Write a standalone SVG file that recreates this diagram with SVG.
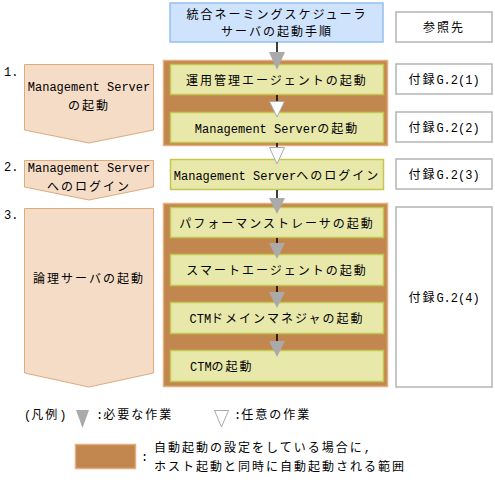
<svg xmlns="http://www.w3.org/2000/svg" width="495" height="484" viewBox="0 0 495 484">
<style>
text{font-family:"Noto Sans CJK JP","Liberation Mono",monospace;font-size:12px;letter-spacing:2px;fill:#000}
.l{font-family:"Liberation Mono","DejaVu Sans Mono",monospace;font-size:12px;letter-spacing:0}
.c{text-anchor:middle}
.blue{fill:#cfe4fc;stroke:#94c0ef;stroke-width:1.5}
.ref{fill:#fff;stroke:#b4b4b4;stroke-width:1.5}
.brown{fill:#c1874f;stroke:#e3ad7d;stroke-width:1.5}
.step{fill:#e8e8ab;stroke:#c5c552;stroke-width:1.5}
.pent{fill:#f5dcc6;stroke:#dcab7e;stroke-width:1}
.req{fill:#aaaaaa;stroke:none}
.opt{fill:#fff;stroke:#aaaaaa;stroke-width:1}
.ln{stroke:#000;stroke-width:1.5}
</style>
<g id="title"><rect class="blue" x="170" y="3" width="213" height="39"/><text class="c" x="277" y="19">統合ネーミングスケジューラ</text><text class="c" x="277" y="36">サーバの起動手順</text></g>
<g id="ref-head"><rect class="ref" x="396" y="12" width="96" height="30"/><text class="c" x="444" y="32">参照先</text></g>
<g id="brown1"><rect class="brown" x="163.5" y="60.5" width="224" height="85"/></g>
<g id="brown2"><rect class="brown" x="163.5" y="203.5" width="224" height="183"/></g>
<g id="n1-label"><text class="l" x="4" y="76">1.</text></g>
<g id="n1"><path class="pent" d="M24.5,64.5H153.5V130L89,143L24.5,130Z"/><text class="c l" x="89" y="91">Management Server</text><text class="c" x="89" y="110">の起動</text></g>
<g id="n2-label"><text class="l" x="4" y="171">2.</text></g>
<g id="n2"><path class="pent" d="M24.5,160.5H153.5V187L89,200L24.5,187Z"/><text class="c l" x="89" y="172">Management Server</text><text class="c" x="89" y="191">へのログイン</text></g>
<g id="n3-label"><text class="l" x="4" y="219">3.</text></g>
<g id="n3"><path class="pent" d="M24.5,208.5H153.5V373L89,387L24.5,373Z"/><text class="c" x="89" y="283">論理サーバの起動</text></g>
<g id="s1"><rect class="step" x="170.5" y="64.5" width="213" height="30"/><text class="c" x="277" y="85">運用管理エージェントの起動</text></g>
<g id="s2"><rect class="step" x="170.5" y="112.5" width="213" height="30"/><text class="c" x="277" y="133"><tspan class="l">Management Server</tspan>の起動</text></g>
<g id="s3"><rect class="step" x="170.5" y="159.5" width="213" height="30"/><text class="c" x="277" y="180"><tspan class="l">Management Server</tspan>へのログイン</text></g>
<g id="s4"><rect class="step" x="170.5" y="207.5" width="213" height="30"/><text class="c" x="277" y="228">パフォーマンストレーサの起動</text></g>
<g id="s5"><rect class="step" x="170.5" y="254.5" width="213" height="31"/><text class="c" x="277" y="275">スマートエージェントの起動</text></g>
<g id="s6"><rect class="step" x="170.5" y="302.5" width="213" height="31"/><text class="c" x="277" y="323"><tspan class="l">CTM</tspan>ドメインマネジャの起動</text></g>
<g id="s7"><rect class="step" x="170.5" y="350.5" width="213" height="31"/><text x="190" y="371"><tspan class="l">CTM</tspan>の起動</text></g>
<g id="r1"><rect class="ref" x="396" y="64" width="96" height="30"/><text class="c" x="444" y="84">付録<tspan class="l">G.2(1)</tspan></text></g>
<g id="r2"><rect class="ref" x="396" y="112" width="96" height="30"/><text class="c" x="444" y="132">付録<tspan class="l">G.2(2)</tspan></text></g>
<g id="r3"><rect class="ref" x="396" y="159" width="96" height="30"/><text class="c" x="444" y="179">付録<tspan class="l">G.2(3)</tspan></text></g>
<g id="r4"><rect class="ref" x="396" y="207" width="96" height="180"/><text class="c" x="444" y="302">付録<tspan class="l">G.2(4)</tspan></text></g>
<g id="connectors">
<line class="ln" x1="277" y1="42" x2="277" y2="53"/><path class="req" d="M269,52H285L277,70Z"/>
<line class="ln" x1="277" y1="95" x2="277" y2="102"/><path class="opt" d="M269.5,101.5H284.5L277,117Z"/>
<line class="ln" x1="277" y1="143" x2="277" y2="148"/><path class="opt" d="M269.5,147.5H284.5L277,164Z"/>
<line class="ln" x1="277" y1="190" x2="277" y2="198"/><path class="req" d="M269,198H285L277,214Z"/>
<line class="ln" x1="277" y1="238" x2="277" y2="244"/><path class="req" d="M269,243H285L277,259Z"/>
<line class="ln" x1="277" y1="286" x2="277" y2="292"/><path class="req" d="M269,292H285L277,308Z"/>
<line class="ln" x1="277" y1="334" x2="277" y2="341"/><path class="req" d="M269,341H285L277,357Z"/>
</g>
<g id="legend">
<text x="24" y="419"><tspan class="l">(</tspan>凡例<tspan class="l">)</tspan></text>
<path class="req" d="M76,410H89L82.5,428Z"/><text x="96" y="419"><tspan class="l">:</tspan>必要な作業</text>
<path class="opt" d="M214.5,410.5H228.5L221.5,427Z"/><text x="234" y="419"><tspan class="l">:</tspan>任意の作業</text>
<rect class="brown" x="75.5" y="444.5" width="60" height="24"/>
<text class="l" x="141" y="461">:</text>
<text x="154" y="452">自動起動の設定をしている場合に<tspan class="l">,</tspan></text>
<text x="154" y="471">ホスト起動と同時に自動起動される範囲</text>
</g>
</svg>
